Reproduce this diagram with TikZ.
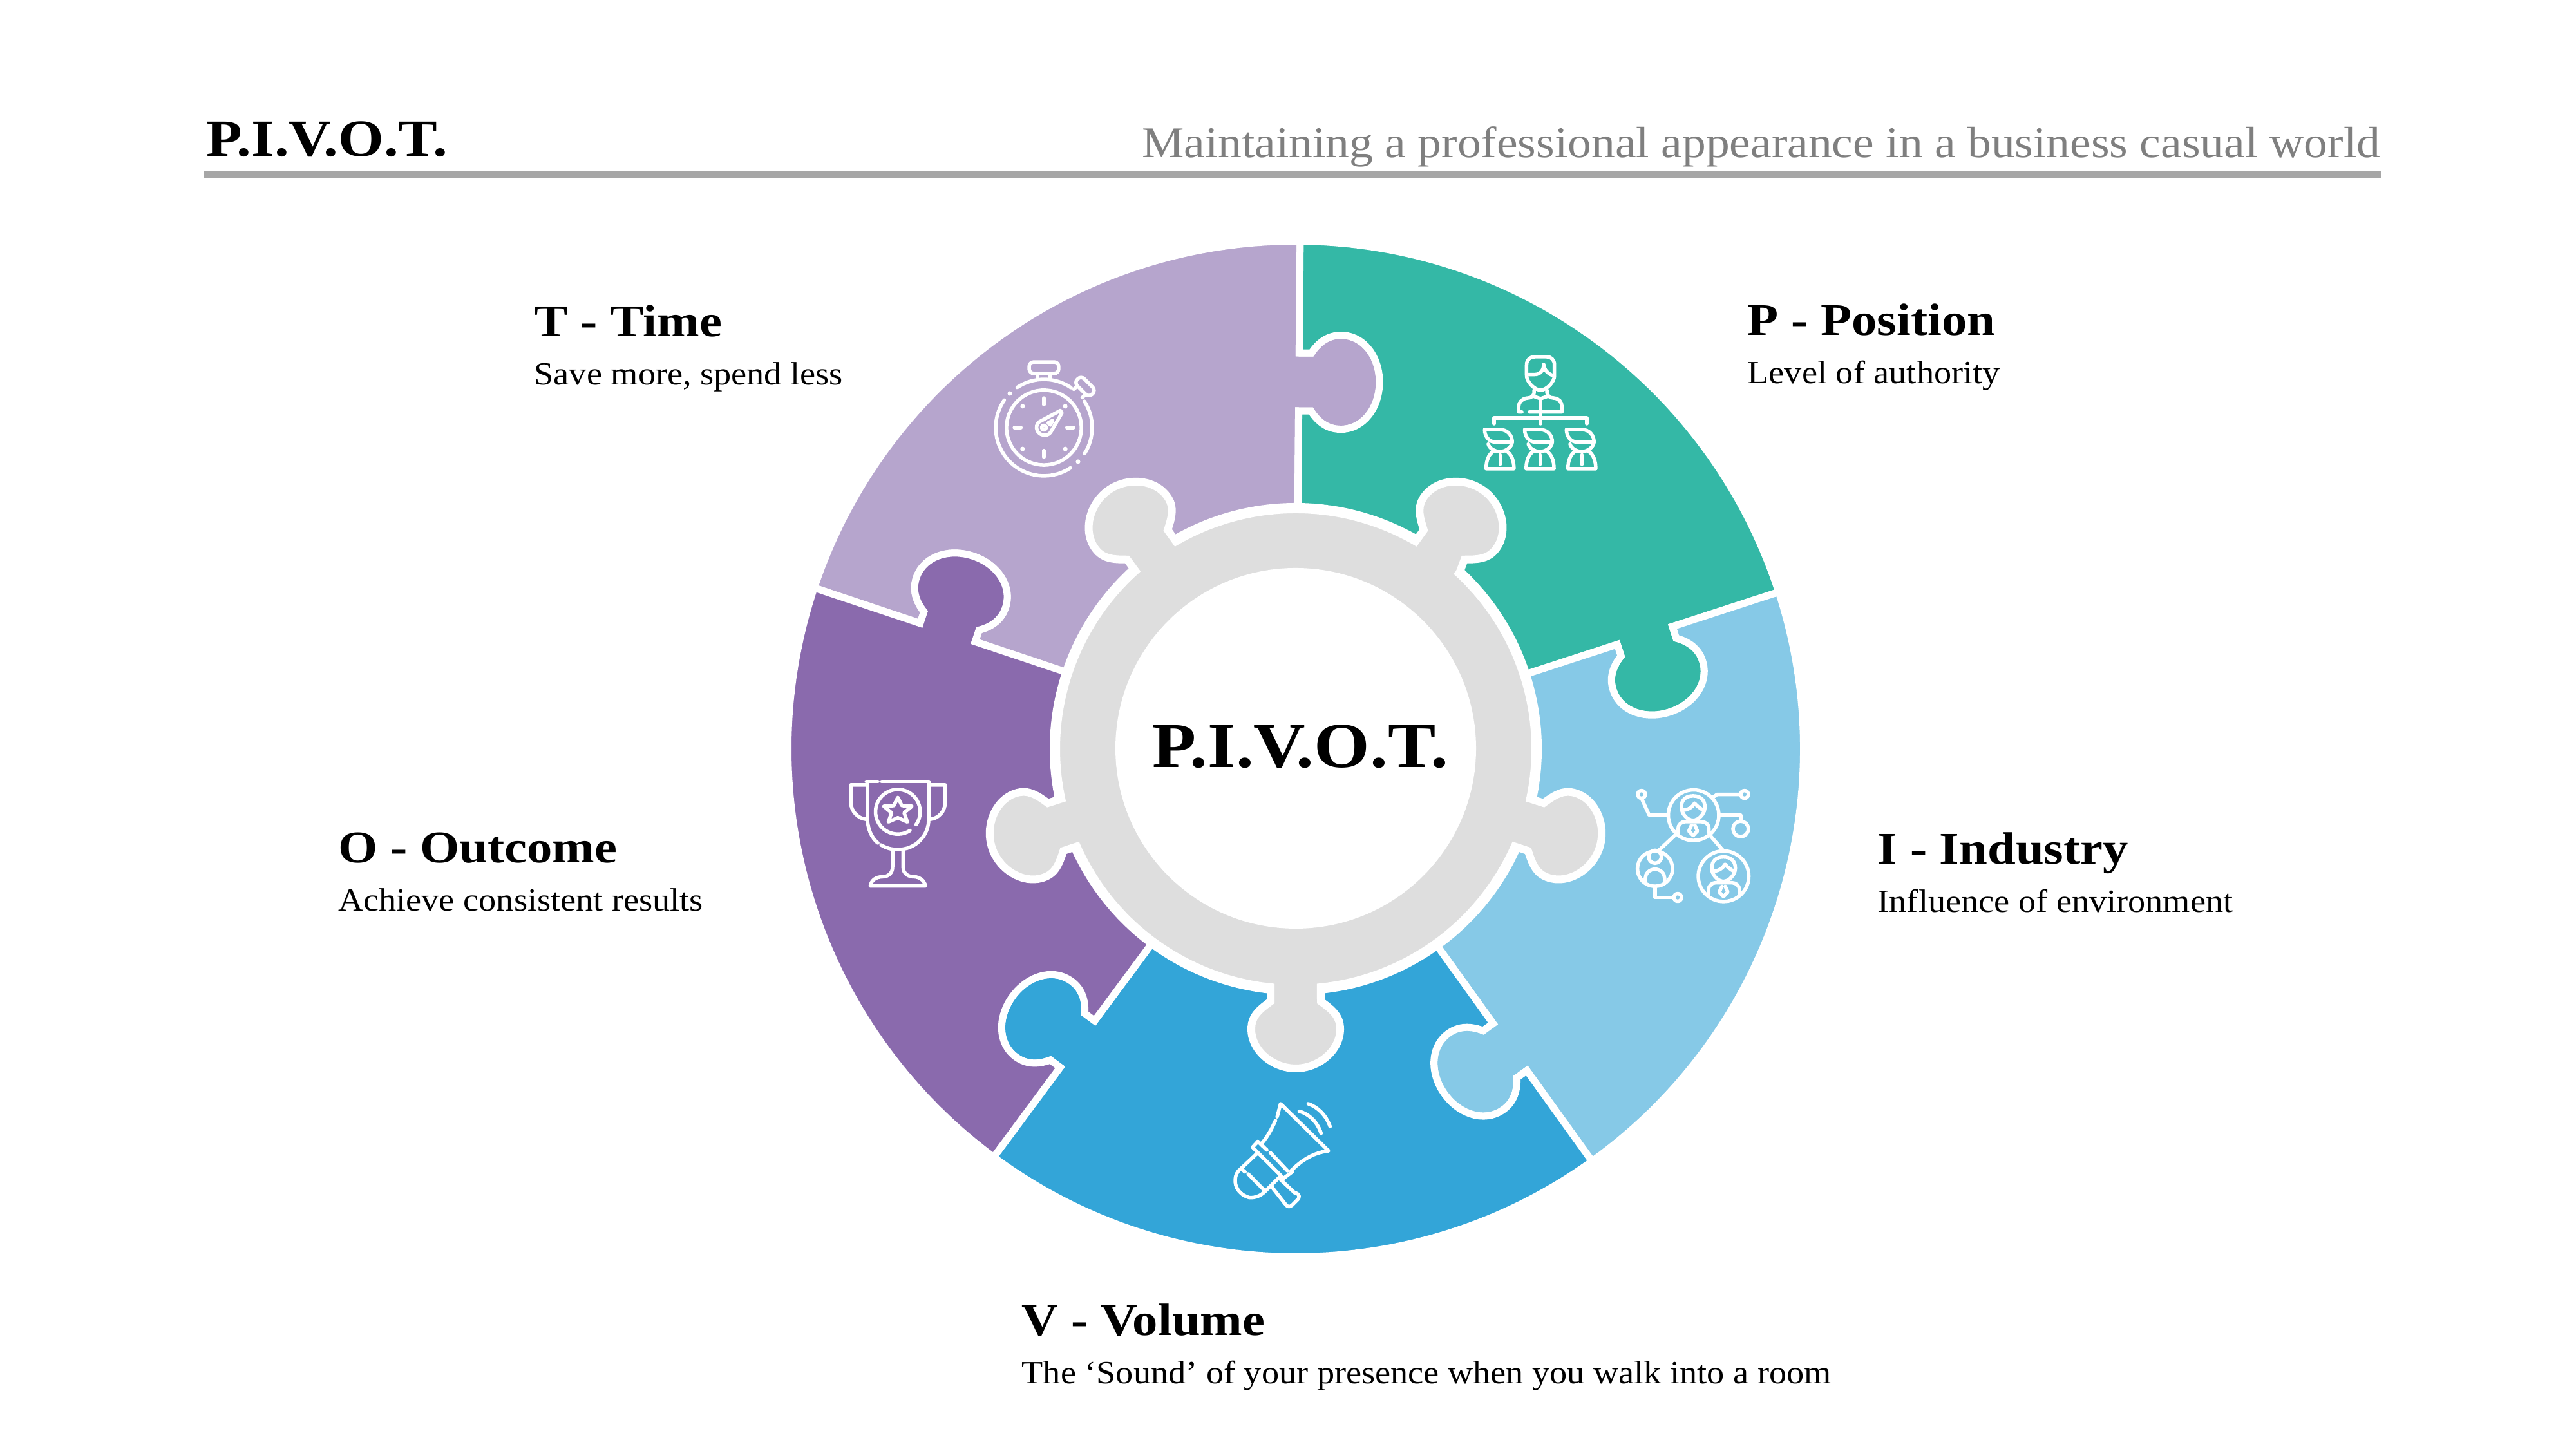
\documentclass[tikz,border=0pt]{standalone}
\usepackage{fontspec}
\setmainfont[FakeStretch=1.08, BoldFeatures={FakeStretch=1.12}]{Liberation Serif}
\usetikzlibrary{positioning}

\definecolor{tealc}{HTML}{34B8A6}
\definecolor{skyc}{HTML}{86C9E7}
\definecolor{bluec}{HTML}{33A5D8}
\definecolor{purplec}{HTML}{8A6AAD}
\definecolor{lavenderc}{HTML}{B6A5CD}
\definecolor{hubc}{HTML}{DEDEDE}
\definecolor{rulec}{HTML}{A6A6A6}
\definecolor{subc}{HTML}{7F7F7F}

% Right edge of a piece, with its knob (outer end to inner end)
\newcommand{\knobdown}[1]{-- ([rotate=#1]0,6.15) -- ([rotate=#1].19,6.15)
  .. controls ([rotate=#1].30,6.32) and ([rotate=#1].45,6.43) .. ([rotate=#1].65,6.43)
  .. controls ([rotate=#1]1,6.43) and ([rotate=#1]1.25,6.1) .. ([rotate=#1]1.25,5.7)
  .. controls ([rotate=#1]1.25,5.3) and ([rotate=#1]1,4.97) .. ([rotate=#1].65,4.97)
  .. controls ([rotate=#1].45,4.97) and ([rotate=#1].30,5.08) .. ([rotate=#1].19,5.25)
  -- ([rotate=#1]0,5.25)}
% Left edge of a piece, the knob of its neighbour (inner end to outer end)
\newcommand{\knobup}[1]{-- ([rotate=#1]0,5.25) -- ([rotate=#1].19,5.25)
  .. controls ([rotate=#1].30,5.08) and ([rotate=#1].45,4.97) .. ([rotate=#1].65,4.97)
  .. controls ([rotate=#1]1,4.97) and ([rotate=#1]1.25,5.3) .. ([rotate=#1]1.25,5.7)
  .. controls ([rotate=#1]1.25,6.1) and ([rotate=#1]1,6.43) .. ([rotate=#1].65,6.43)
  .. controls ([rotate=#1].45,6.43) and ([rotate=#1].30,6.32) .. ([rotate=#1].19,6.15)
  -- ([rotate=#1]0,6.15)}

\begin{document}
\begin{tikzpicture}[
    piece/.style={draw=white, line width=.11cm, miter limit=4},
    hubline/.style={draw=white, fill=hubc, line width=.12cm},
    icon/.style={white, line width=.055cm, line cap=round, line join=round},
    heading/.style={anchor=base west, inner sep=0pt, font=\fontsize{20}{24}\selectfont\bfseries},
    sublabel/.style={anchor=base west, inner sep=0pt, font=\fontsize{14.3}{17}\selectfont}
]
\useasboundingbox (0,0) rectangle (40,22.5);

% Header
\node[anchor=base west, inner sep=0pt, font=\fontsize{23.1}{27}\selectfont\bfseries] (title) at (3.2,20.07) {P.I.V.O.T.};
\node[anchor=base east, inner sep=0pt, text=subc, font=\fontsize{19.37}{23}\selectfont] (subtitle) at (36.97,20.05) {Maintaining a professional appearance in a business casual world};
\fill[rulec] (3.17,19.73) rectangle (36.97,19.85);

\begin{scope}[shift={(20.12,10.87)}]
% Puzzle pieces
\foreach \col/\a/\b in {lavenderc/161.5/89.5, tealc/89.5/18, skyc/18/-54.3, bluec/-54.3/-126.5, purplec/-126.5/-198.5}
  \draw[piece, fill=\col] (\a:7.885) arc[start angle=\a, end angle=\b, radius=7.885] \knobdown{\b-90}
    -- (\b:3.765) arc[start angle=\b, end angle=\a, radius=3.765] \knobup{\a-90} -- cycle;

% Hub ring with its five knobs
\draw[hubline] (47:3.72) \foreach \a in {54,126,198,270,342} {
    -- ([rotate=\a]3.92,-.39)
    .. controls ([rotate=\a]4.05,-.57) and ([rotate=\a]4.15,-.69) .. ([rotate=\a]4.35,-.69)
    .. controls ([rotate=\a]4.68,-.69) and ([rotate=\a]4.96,-.36) .. ([rotate=\a]4.96,0)
    .. controls ([rotate=\a]4.96,.36) and ([rotate=\a]4.68,.69) .. ([rotate=\a]4.35,.69)
    .. controls ([rotate=\a]4.15,.69) and ([rotate=\a]4.05,.57) .. ([rotate=\a]3.92,.39)
    -- (\a+6:3.72) arc[start angle=\a+6, delta angle=60, radius=3.72]
  } -- cycle;
\node[circle, fill=white, minimum size=5.6cm, inner sep=0pt] (hole) at (0,.01) {};
\end{scope}
\node[anchor=base, inner sep=0pt, font=\fontsize{28.3}{34}\selectfont\bfseries] (center) at (20.195,10.58) {P.I.V.O.T.};

% Labels
\node[heading] (P) at (27.13,17.29) {P - Position};
\node[sublabel, below=.75cm of P.base west, anchor=base west] (Psub) {Level of authority};
\node[heading] (I) at (29.15,9.08) {I - Industry};
\node[sublabel, below=.75cm of I.base west, anchor=base west] (Isub) {Influence of environment};
\node[heading] (V) at (15.86,1.76) {V - Volume};
\node[sublabel, below=.75cm of V.base west, anchor=base west] (Vsub) {The ‘Sound’ of your presence when you walk into a room};
\node[heading] (O) at (5.245,9.1) {O - Outcome};
\node[sublabel, below=.75cm of O.base west, anchor=base west] (Osub) {Achieve consistent results};
\node[heading] (T) at (8.29,17.27) {T - Time};
\node[sublabel, below=.75cm of T.base west, anchor=base west] (Tsub) {Save more, spend less};

% Stopwatch
\begin{scope}[shift={(16.21,15.86)}, x=.0051cm, y=.0051cm, icon]
\draw (0,0) circle (114);
\draw (123.7:147) arc[start angle=123.7, end angle=55.8, radius=147];
\draw (33:147) arc[start angle=33, end angle=-32.6, radius=147];
\draw (-56.7:147) arc[start angle=-56.7, end angle=-214.7, radius=147];
\fill (135:147) circle (7);
\fill (-45:147) circle (7);
\draw[rounded corners=2pt] (-45,165) rectangle (45,200);
\draw (-20,165) -- (-20,147) (20,165) -- (20,147);
\draw[rotate=-45, rounded corners=2pt] (-32,162) rectangle (32,192);
\draw[rotate=-45] (-18,147) -- (-18,162) (18,147) -- (18,162);
\foreach \a in {0,90,180,270} \draw (\a:70) -- (\a:90);
\foreach \a in {45,135,225,315} \fill (\a:92) circle (7);
\draw (-15,17) -- (50,52) -- (55,45) -- (20,-15) .. controls (10,-28) and (-12,-25) .. (-20,-10) .. controls (-25,0) and (-22,12) .. (-15,17);
\draw (0,0) circle (7);
\draw (13,14) -- (27,22) -- (20,8) -- cycle;
\end{scope}

% Organisation chart
\begin{scope}[shift={(22.8,17.2)}, x=.00333cm, y=-.00333cm, icon]
\draw (272,160) -- (272,110) .. controls (272,85) and (290,72) .. (310,72) -- (365,72) .. controls (385,72) and (402,85) .. (402,110) -- (402,160) .. controls (402,190) and (365,228) .. (337,228) .. controls (310,228) and (272,190) .. (272,160);
\draw (278,155) -- (310,155) .. controls (335,155) and (352,135) .. (352,108) .. controls (355,135) and (370,150) .. (395,160);
\draw (307,228) .. controls (310,255) and (295,265) .. (275,265) .. controls (250,268) and (235,285) .. (235,305) -- (235,330) -- (250,330);
\draw (367,228) .. controls (365,255) and (380,265) .. (400,265) .. controls (425,268) and (437,285) .. (437,305) -- (437,330) -- (285,330);
\draw (300,255) -- (337,268) -- (375,255);
\draw (337,268) -- (337,385);
\draw (120,385) -- (120,358) -- (553,358) -- (553,385);
\foreach \x in {148,335,530} {
  \begin{scope}[shift={(\x,0)}]
  \draw (-72,412) -- (0,412) .. controls (35,412) and (57,440) .. (57,470) -- (-25,470) .. controls (-50,470) and (-72,445) .. (-72,412);
  \draw (-55,480) .. controls (-50,500) and (-25,515) .. (0,515) .. controls (25,515) and (55,495) .. (57,470);
  \draw (-25,510) .. controls (-55,525) and (-65,560) .. (-65,595) -- (65,595) .. controls (65,560) and (55,525) .. (25,510);
  \draw (0,530) -- (0,575);
  \end{scope}
}
\end{scope}

% Network of people
\begin{scope}[shift={(25,10.5)}, x=.00333cm, y=-.00333cm, icon]
\draw (390,198) circle (118);
\draw (210,448) circle (82);
\draw (530,483) circle (118);
\draw (147,101) circle (18);
\draw (628,101) circle (18);
\draw (316,582) circle (18);
\draw (610,262) circle (36);
\draw (147,119) -- (183,198) -- (272,198);
\draw (480,115) -- (500,101) -- (610,101);
\draw (508,198) -- (610,198) -- (610,226);
\draw (305,290) -- (228,362);
\draw (465,290) -- (530,365);
\draw (210,530) -- (210,582) -- (298,582);
\foreach \dx/\dy in {0/0,142/285} {
  \begin{scope}[shift={(\dx,\dy)}]
  \draw (333,160) .. controls (333,125) and (355,108) .. (388,108) .. controls (420,108) and (443,125) .. (443,160) .. controls (443,190) and (415,222) .. (388,222) .. controls (360,222) and (333,190) .. (333,160);
  \draw (335,175) .. controls (365,175) and (385,160) .. (395,142) .. controls (405,155) and (420,165) .. (440,178);
  \draw (318,282) -- (318,262) .. controls (318,240) and (335,228) .. (352,228) -- (425,228) .. controls (445,228) and (462,240) .. (462,262) -- (462,282);
  \draw (380,245) -- (368,272) -- (388,293) -- (408,272) -- (396,245);
  \end{scope}
}
\draw (210,392) circle (30);
\draw (165,510) -- (165,492) .. controls (165,470) and (185,450) .. (210,450) .. controls (235,450) and (255,470) .. (255,492) -- (255,510);
\end{scope}

% Megaphone
\begin{scope}[shift={(18.9,5.6)}, x=.00333cm, y=-.00333cm, icon]
\draw (280,133) -- (296,72) -- (520,292) .. controls (450,300) and (395,335) .. (345,385);
\draw (272,150) .. controls (255,190) and (235,225) .. (210,255);
\draw (190,248) -- (165,275) -- (310,420) -- (350,390);
\draw (190,248) -- (232,288);
\draw (248,300) -- (328,385);
\draw (185,305) -- (100,385) .. controls (70,420) and (80,490) .. (150,510) .. controls (180,512) and (205,500) .. (225,480) -- (290,415);
\draw (145,400) -- (222,478);
\draw (118,380) -- (130,390);
\draw (255,460) -- (318,540) .. controls (328,555) and (340,555) .. (350,545) -- (380,515) .. controls (388,500) and (375,488) .. (362,488) -- (290,420);
\draw (383,107) .. controls (430,120) and (470,160) .. (485,210);
\draw (425,72) .. controls (475,90) and (510,130) .. (527,178);
\end{scope}

% Trophy
\begin{scope}[shift={(12,11)}, x=.0051cm, y=-.0051cm, icon]
\draw (285,125) -- (320,125) (332,125) -- (475,125);
\draw (288,125) -- (288,240) .. controls (290,270) and (300,295) .. (320,312);
\draw (330,318) .. controls (345,327) and (360,332) .. (381,332) .. controls (435,332) and (475,290) .. (475,240) -- (475,125);
\draw (285,135) -- (238,135) -- (238,190) .. controls (238,215) and (260,238) .. (285,240);
\draw (475,135) -- (525,135) -- (525,190) .. controls (525,215) and (505,238) .. (478,240);
\draw (381,217) ++(57:68) arc[start angle=57, end angle=395, radius=68];
\draw (381,173) -- (393,198) -- (424,200) -- (400,220) -- (410,248) -- (381,235) -- (352,248) -- (362,220) -- (338,200) -- (369,198) -- cycle;
\draw (365,335) -- (365,385) .. controls (365,405) and (350,415) .. (335,415) .. controls (315,415) and (300,425) .. (297,443) -- (465,443) .. controls (462,425) and (445,415) .. (430,415) .. controls (412,415) and (397,405) .. (397,385) -- (397,335);
\end{scope}
\end{tikzpicture}
\end{document}
